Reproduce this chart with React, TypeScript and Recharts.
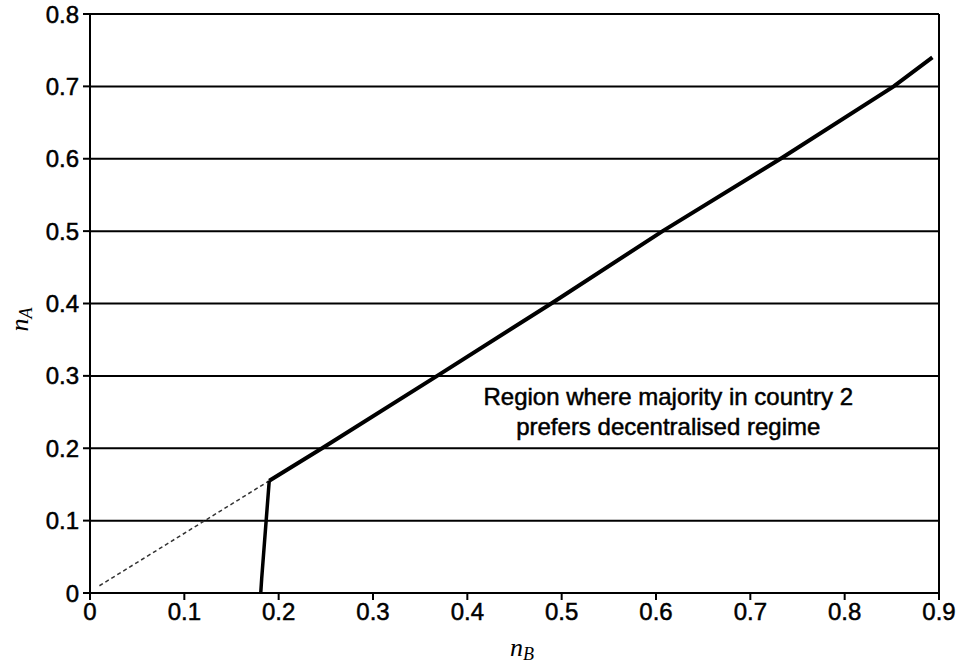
import React from 'react';
import { LineChart, Line, XAxis, YAxis, CartesianGrid, ReferenceLine, ReferenceDot } from 'recharts';

const xTicks = [0, 0.1, 0.2, 0.3, 0.4, 0.5, 0.6, 0.7, 0.8, 0.9];
const yTicks = [0, 0.1, 0.2, 0.3, 0.4, 0.5, 0.6, 0.7, 0.8];

const boundaryNB = [0.19, 0.246, 0.368, 0.489, 0.607, 0.732, 0.852, 0.893];
const boundaryNA = [0.155, 0.2, 0.3, 0.4, 0.5, 0.6, 0.7, 0.74];

const dashedNB = [0.01, 0.19];
const dashedNA = [0.01, 0.155];

const verticalNB = [0.181, 0.182, 0.19];
const verticalNA = [0, 0.02, 0.155];

const noteLines = ['Region where majority in country 2', 'prefers decentralised regime'];

const toData = (xs: number[], ys: number[]) => xs.map((x, i) => ({ x, y: ys[i] }));

const boundary = toData(boundaryNB, boundaryNA);
const dashed = toData(dashedNB, dashedNA);
const vertical = toData(verticalNB, verticalNA);

const fmt = (v: number) => (v === 0 ? '0' : String(v));
const tickStyle = { fill: '#000', fontSize: 24, fontFamily: 'Liberation Sans, Arial, sans-serif', stroke: '#000', strokeWidth: 0.5 };

const YLabel = (props: any) => {
  const vb = props.viewBox || {};
  const cx = 22;
  const cy = vb.y + vb.height / 2 + 16;
  return (
    <text transform={`rotate(-90, ${cx}, ${cy})`} x={cx} y={cy} textAnchor="middle" dominantBaseline="middle"
      fontFamily="Liberation Serif, Times New Roman, serif" fontStyle="italic" fontSize={26} fill="#000">
      n<tspan dy={6} fontSize={18}>A</tspan>
    </text>
  );
};

const XLabel = (props: any) => {
  const vb = props.viewBox || {};
  const cx = 522;
  const cy = 650;
  return (
    <text x={cx} y={cy} textAnchor="middle" dominantBaseline="middle"
      fontFamily="Liberation Serif, Times New Roman, serif" fontStyle="italic" fontSize={26} fill="#000">
      n<tspan dy={6} fontSize={18}>B</tspan>
    </text>
  );
};

const Note = (props: any) => {
  const vb = props.viewBox || {};
  const cx = vb.cx ?? vb.x;
  const cy = vb.cy ?? vb.y;
  return (
    <text textAnchor="middle" fontFamily="Liberation Sans, Arial, sans-serif" fontSize={24} fill="#000" stroke="#000" strokeWidth={0.5}>
      {noteLines.map((t, i) => (
        <tspan key={i} x={cx} y={cy + i * 30}>{t}</tspan>
      ))}
    </text>
  );
};

export default function App() {
  return (
    <div style={{ position: 'absolute', left: 0, top: 0, background: '#fff' }}>
      <LineChart width={968} height={666} margin={{ top: 14, right: 29, bottom: 13, left: 30 }}>
        <CartesianGrid vertical={false} stroke="#000" strokeWidth={2} horizontalValues={yTicks} />
        <XAxis type="number" dataKey="x" domain={[0, 0.9]} ticks={xTicks} tickFormatter={fmt}
          allowDataOverflow height={60} tick={tickStyle} tickSize={7} tickMargin={3}
          axisLine={{ stroke: '#000', strokeWidth: 2 }} tickLine={{ stroke: '#000', strokeWidth: 2 }}
          label={<XLabel />} />
        <YAxis type="number" dataKey="y" domain={[0, 0.8]} ticks={yTicks} tickFormatter={fmt}
          allowDataOverflow width={60} tick={tickStyle} tickSize={7} tickMargin={4}
          axisLine={{ stroke: '#000', strokeWidth: 2 }} tickLine={{ stroke: '#000', strokeWidth: 2 }}
          label={<YLabel />} />
        <ReferenceLine x={0.9} stroke="#000" strokeWidth={2} />
        <Line data={dashed} dataKey="y" type="linear" stroke="#333" strokeWidth={1.5} strokeDasharray="4 3"
          dot={false} isAnimationActive={false} />
        <Line data={vertical} dataKey="y" type="linear" stroke="#000" strokeWidth={3.5}
          dot={false} isAnimationActive={false} />
        <Line data={boundary} dataKey="y" type="linear" stroke="#000" strokeWidth={4}
          dot={false} isAnimationActive={false} />
        <ReferenceDot x={0.613} y={0.26} r={0} fill="none" stroke="none" label={<Note />} />
      </LineChart>
    </div>
  );
}
